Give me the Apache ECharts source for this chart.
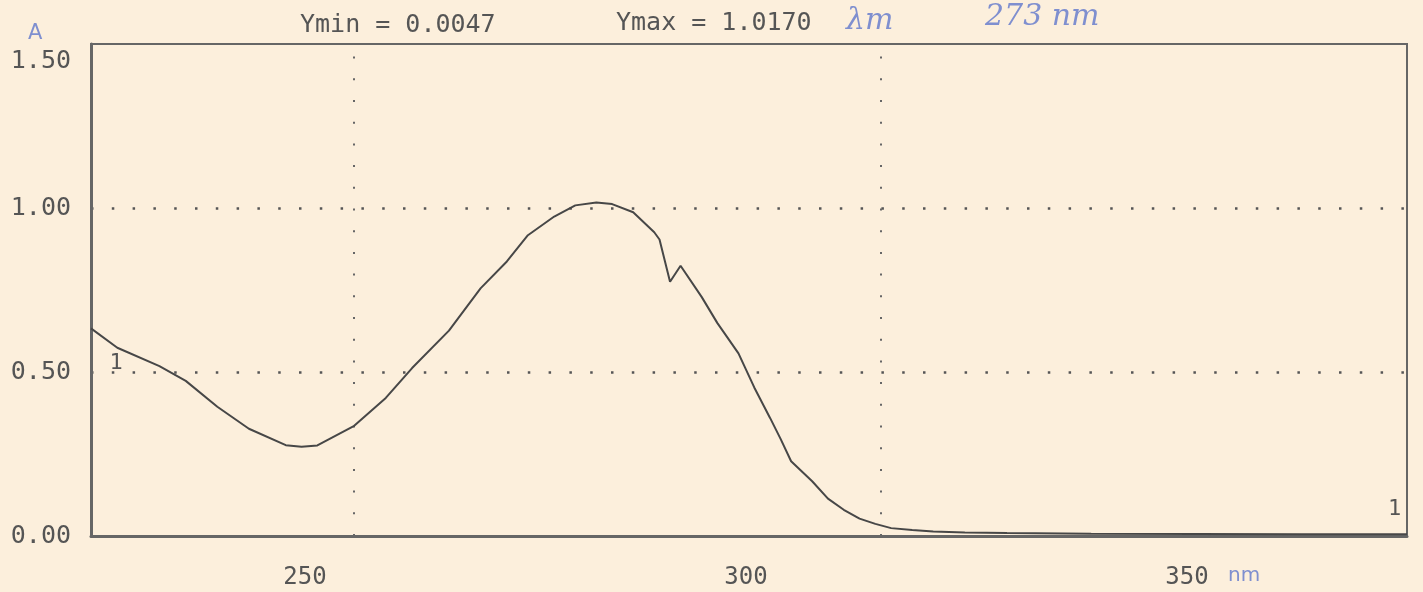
<!DOCTYPE html>
<html>
<head>
<meta charset="utf-8">
<title>Spectre UV</title>
<script src="https://cdn.jsdelivr.net/npm/echarts@6/dist/echarts.min.js"></script>
<style>
  html, body { margin: 0; padding: 0; background: #fcefdc; }
  #main { width: 1423px; height: 592px; }
</style>
</head>
<body>
<div id="main"></div>
<script>
// longueur d'onde (nm) / absorbance
const wavelength = [225, 227.5, 231.5, 234, 237, 240, 243.5, 245, 246.5, 250, 253, 255.5, 259, 262, 264.5,
  266.5, 269, 271, 273, 274.5, 276.5, 278.5, 279, 280, 281, 283, 284.5, 286.5, 288, 289.5, 290.5,
  291.5, 293.5, 295, 296.5, 298, 299.5, 301, 303, 305, 308, 312, 320, 330, 340, 350];
const absorbance = [0.633, 0.574, 0.518, 0.473, 0.394, 0.327, 0.277, 0.272, 0.276, 0.336, 0.421, 0.512, 0.626, 0.755, 0.837,
  0.917, 0.974, 1.008, 1.017, 1.012, 0.987, 0.926, 0.904, 0.775, 0.824, 0.729, 0.649, 0.557, 0.453, 0.360, 0.296,
  0.228, 0.167, 0.114, 0.080, 0.053, 0.037, 0.024, 0.018, 0.014, 0.011, 0.009, 0.007, 0.006, 0.005, 0.005];

const yTickLabels = ['0.00', '0.50', '1.00', '1.50'];
const xTickLabels = [250, 300, 350];
const xGridLines = [250, 300];

const ink = '#555';
const mono = 'DejaVu Sans Mono';
const pen = '#7f8fcf';

const chart = echarts.init(document.getElementById('main'));

const option = {
  backgroundColor: '#fcefdc',
  animation: false,
  title: [
    { text: 'Ymin = 0.0047', left: 295, top: 8, textStyle: { fontFamily: mono, fontSize: 25, fontWeight: 'normal', color: ink } },
    { text: 'Ymax = 1.0170', left: 611, top: 6, textStyle: { fontFamily: mono, fontSize: 25, fontWeight: 'normal', color: ink } }
  ],
  graphic: [
    { type: 'text', left: 28, top: 23, style: { text: 'A', font: '21px "DejaVu Sans"', fill: pen } },
    { type: 'text', left: 846, top: 6, style: { text: 'λm', font: 'italic 30px "DejaVu Serif"', fill: pen } },
    { type: 'text', left: 985, top: 2, style: { text: '273 nm', font: 'italic 30px "DejaVu Serif"', fill: pen } },
    { type: 'text', left: 1228, top: 566, style: { text: 'nm', font: '20px "DejaVu Sans"', fill: pen } }
  ],
  grid: [
    { left: 91, right: 16, top: 44, bottom: 56, show: true, borderColor: '#666', borderWidth: 2, backgroundColor: 'transparent' },
    { left: 305, right: 236, top: 44, bottom: 56 }
  ],
  xAxis: [
    {
      type: 'value', gridIndex: 0, min: 225, max: 350,
      axisLine: { show: true, lineStyle: { color: '#666', width: 3 } },
      axisTick: { show: false }, axisLabel: { show: false }, splitLine: { show: false }
    },
    {
      // graduations imprimées (décalées par la table traçante)
      type: 'value', gridIndex: 1, min: 250, max: 350, interval: 50,
      axisLine: { show: false }, axisTick: { show: false }, splitLine: { show: false },
      axisLabel: {
        margin: 30, fontFamily: mono, fontSize: 24, color: ink,
        formatter: (v) => xTickLabels.includes(v) ? String(v) : ''
      }
    }
  ],
  yAxis: [
    {
      type: 'value', gridIndex: 0, min: 0, max: 1.5, interval: 0.5,
      axisLine: { show: true, lineStyle: { color: '#666', width: 3 } },
      axisTick: { show: false },
      axisLabel: {
        margin: 20, fontFamily: mono, fontSize: 25, color: ink,
        formatter: (v) => {
          const i = Math.round(v / 0.5);
          return i === yTickLabels.length - 1 ? '{top|' + yTickLabels[i] + '}' : yTickLabels[i];
        },
        rich: {
          top: { fontFamily: mono, fontSize: 25, color: ink, padding: [34, 0, 0, 0] }
        }
      },
      splitLine: {
        show: true, showMinLine: false, showMaxLine: false,
        lineStyle: { color: '#555', width: 2.5, type: [2.5, 18.3] }
      }
    },
    { type: 'value', gridIndex: 1, min: 0, max: 1.5, show: false }
  ],
  series: [
    {
      type: 'line',
      xAxisIndex: 0, yAxisIndex: 0,
      data: wavelength.map((w, i) => [w, absorbance[i]]),
      showSymbol: false,
      symbol: 'none',
      lineStyle: { color: '#474747', width: 2 },
      endLabel: { show: true, formatter: '1', offset: [-27, -25], fontFamily: mono, fontSize: 22, color: ink },
      markPoint: {
        silent: true,
        symbol: 'circle',
        symbolSize: 0,
        label: { show: true, formatter: '1', position: 'inside', offset: [25, 35], fontFamily: mono, fontSize: 22, color: ink },
        data: [{ coord: [wavelength[0], absorbance[0]] }]
      },
      markLine: {
        silent: true,
        symbol: 'none',
        label: { show: false },
        lineStyle: { color: '#666', width: 2, type: [2, 19.7] },
        data: xGridLines.map((x) => ({ xAxis: x }))
      },
      z: 5
    }
  ]
};

chart.setOption(option);
</script>
</body>
</html>
